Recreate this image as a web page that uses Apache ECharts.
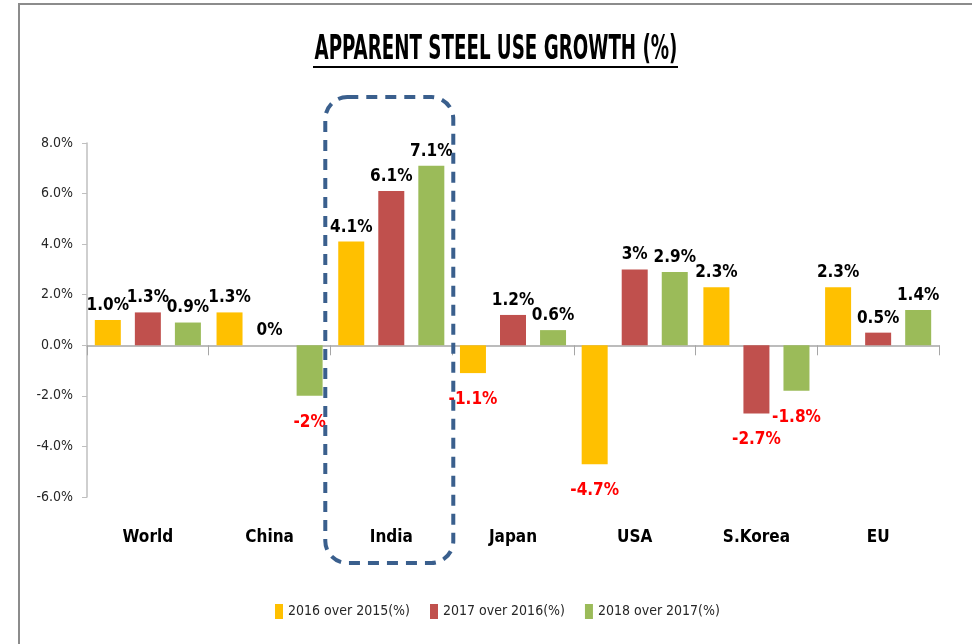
<!DOCTYPE html>
<html>
<head>
<meta charset="utf-8">
<script src="https://cdn.jsdelivr.net/npm/echarts@6/dist/echarts.min.js"></script>
<style>
  html, body { margin: 0; padding: 0; background: #fff; }
  #chart { width: 972px; height: 644px; }
</style>
</head>
<body>
<div id="chart"></div>
<script>
// data
var regions = ['World', 'China', 'India', 'Japan', 'USA', 'S.Korea', 'EU'];
var seriesNames = ['2016 over 2015(%)', '2017 over 2016(%)', '2018 over 2017(%)'];
var growth2016 = [1.0, 1.3, 4.1, -1.1, -4.7, 2.3, 2.3];
var growth2017 = [1.3, 0, 6.1, 1.2, 3, -2.7, 0.5];
var growth2018 = [0.9, -2, 7.1, 0.6, 2.9, -1.8, 1.4];
var labels2016 = ['1.0%', '1.3%', '4.1%', '-1.1%', '-4.7%', '2.3%', '2.3%'];
var labels2017 = ['1.3%', '0%', '6.1%', '1.2%', '3%', '-2.7%', '0.5%'];
var labels2018 = ['0.9%', '-2%', '7.1%', '0.6%', '2.9%', '-1.8%', '1.4%'];
var yTicks = [-6, -4, -2, 0, 2, 4, 6, 8];
var colors = ['#FFC000', '#C0504D', '#9BBB59'];

var FONT = '"DejaVu Sans Condensed", "DejaVu Sans", sans-serif';

function barSeries(name, values, texts, color) {
  return {
    name: name,
    type: 'bar',
    barWidth: 26,
    barGap: '54%',
    itemStyle: { color: color },
    label: {
      show: true,
      position: 'top',
      distance: 6,
      fontFamily: FONT,
      fontWeight: 'bold',
      fontSize: 17,
      color: '#000',
      formatter: function (p) { return texts[p.dataIndex]; }
    },
    data: values.map(function (v) {
      if (v < 0) {
        return { value: v, label: { position: 'bottom', distance: 18, color: '#FF0000' } };
      }
      return v;
    })
  };
}

var chart = echarts.init(document.getElementById('chart'));

chart.setOption({
  backgroundColor: '#fff',
  animation: false,
  grid: { left: 87, right: 33, top: 143, bottom: 147 },
  legend: {
    left: 270,
    top: 599,
    icon: 'rect',
    itemWidth: 8,
    itemHeight: 15,
    itemGap: 20,
    textStyle: { fontFamily: FONT, fontSize: 14, color: '#262626' },
    data: seriesNames
  },
  xAxis: [{
    type: 'category',
    data: regions,
    axisLine: { lineStyle: { color: '#A6A6A6', width: 1.5 } },
    axisTick: { show: true, length: 10, lineStyle: { color: '#A6A6A6' } },
    axisLabel: { show: false },
    splitLine: { show: false }
  }, {
    type: 'category',
    data: regions,
    position: 'bottom',
    axisLine: { show: false, onZero: false },
    axisTick: { show: false },
    axisLabel: {
      margin: 32,
      fontFamily: FONT,
      fontWeight: 'bold',
      fontSize: 17,
      color: '#000'
    }
  }],
  yAxis: {
    type: 'value',
    min: yTicks[0],
    max: yTicks[yTicks.length - 1],
    interval: 2,
    axisLine: { show: true, lineStyle: { color: '#BFBFBF', width: 1.5 } },
    axisTick: { show: true, length: 5, lineStyle: { color: '#BFBFBF' } },
    axisLabel: {
      margin: 14,
      fontFamily: FONT,
      fontSize: 14,
      color: '#262626',
      formatter: function (v) { return v.toFixed(1) + '%'; }
    },
    splitLine: { show: false }
  },
  series: [
    barSeries(seriesNames[0], growth2016, labels2016, colors[0]),
    barSeries(seriesNames[1], growth2017, labels2017, colors[1]),
    barSeries(seriesNames[2], growth2018, labels2018, colors[2])
  ]
});

// decorations: frame, underlined title, dashed box round India
var cx = chart.convertToPixel({ xAxisIndex: 0 }, 'India');
var yTop = chart.convertToPixel({ yAxisIndex: 0 }, yTicks[yTicks.length - 1]);
var yBot = chart.convertToPixel({ yAxisIndex: 0 }, yTicks[0]);

chart.setOption({
  graphic: [{
    type: 'polyline',
    shape: { points: [[19, 644], [19, 4], [972, 4]] },
    style: { stroke: '#8C8C8C', lineWidth: 2, fill: null }
  }, {
    type: 'text',
    x: 496,
    y: 50,
    scaleX: 0.615,
    style: {
      text: 'APPARENT STEEL USE GROWTH (%)',
      fontFamily: FONT,
      fontWeight: 'bold',
      fontSize: 33,
      fill: '#000',
      align: 'center',
      verticalAlign: 'middle'
    }
  }, {
    type: 'line',
    shape: { x1: 313, y1: 67, x2: 678, y2: 67 },
    style: { stroke: '#000', lineWidth: 2 }
  }, {
    type: 'rect',
    shape: { x: cx - 66, y: yTop - 46, width: 128, height: (yBot + 66) - (yTop - 46), r: 22 },
    style: { fill: null, stroke: '#3A5F8D', lineWidth: 4, lineDash: [11, 8] },
    z: 10
  }]
});
</script>
</body>
</html>
